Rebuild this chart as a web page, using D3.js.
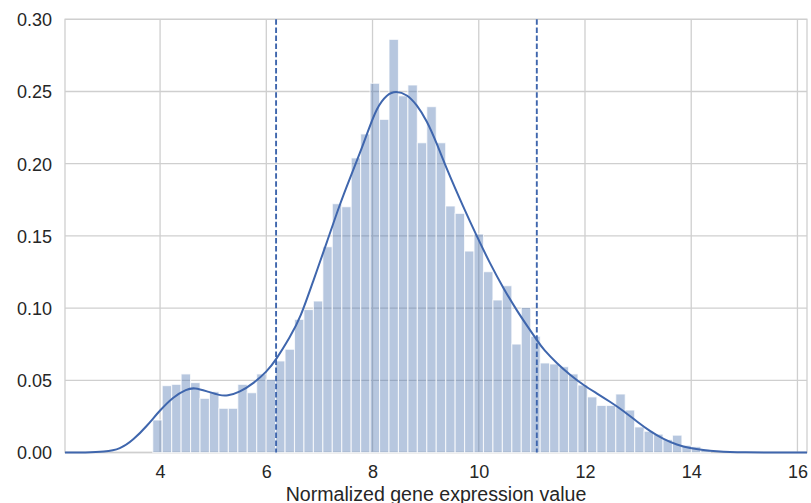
<!DOCTYPE html>
<html>
<head>
<meta charset="utf-8">
<script src="https://cdn.jsdelivr.net/npm/d3@7"></script>
<style>
  html, body { margin: 0; padding: 0; background: #ffffff; }
  svg { display: block; }
  text { font-family: "Liberation Sans", Arial, Helvetica, sans-serif; fill: #262626; }
</style>
</head>
<body>
<svg id="chart" width="811" height="503"></svg>
<script>
// Histogram of normalized expression values (density scale)
const binStart = 3.8625;
const binWidth = 0.1779;
const binDensity = [
  0.0225, 0.0463, 0.0472, 0.0544, 0.0484, 0.0375, 0.0421, 0.0306, 0.0306, 0.0472,
  0.0414, 0.0544, 0.0507, 0.0634, 0.0715, 0.0922, 0.0990, 0.1049, 0.1425, 0.1723,
  0.1702, 0.2040, 0.2206, 0.2557, 0.2307, 0.2861, 0.2470, 0.2545, 0.2145, 0.2395,
  0.2145, 0.1707, 0.1656, 0.1395, 0.1513, 0.1252, 0.1056, 0.1155, 0.0751, 0.1005,
  0.0805, 0.0620, 0.0613, 0.0594, 0.0544, 0.0467, 0.0385, 0.0326, 0.0326, 0.0405,
  0.0294, 0.0177, 0.0147, 0.0127, 0.0090, 0.0120, 0.0050, 0.0040, 0.0022
];

// Kernel density estimate, sampled along the x axis
const kdeX = [
  2.21, 2.6, 2.95, 3.25, 3.5, 3.75, 4.0, 4.25, 4.5, 4.65,
  4.88, 5.13, 5.26, 5.5, 5.76, 6.01, 6.18, 6.45, 6.64, 6.89,
  7.14, 7.39, 7.58, 7.77, 7.9, 8.08, 8.27, 8.44, 8.65, 8.83,
  9.02, 9.21, 9.4, 9.71, 9.96, 10.21, 10.46, 10.72, 10.97, 11.1,
  11.22, 11.47, 11.72, 11.97, 12.22, 12.47, 12.72, 12.98, 13.23, 13.48,
  13.73, 13.98, 14.23, 14.48, 14.73, 15.0, 15.4, 16.18
];
const kdeY = [
  0.0, 0.0, 0.0004, 0.0022, 0.0088, 0.0182, 0.0294, 0.0386, 0.0440, 0.0449,
  0.0424, 0.0395, 0.0391, 0.0418, 0.0479, 0.0560, 0.0640, 0.0802, 0.0930, 0.1195,
  0.1455, 0.1726, 0.1905, 0.2080, 0.2210, 0.2390, 0.2480, 0.2505, 0.2480, 0.2410,
  0.2300, 0.2140, 0.1960, 0.1700, 0.1500, 0.1310, 0.1140, 0.0980, 0.0845, 0.0775,
  0.0712, 0.0618, 0.0537, 0.0467, 0.0410, 0.0352, 0.0290, 0.0213, 0.0146, 0.0092,
  0.0053, 0.0029, 0.0016, 0.0008, 0.0003, 0.0001, 0.0, 0.0
];

// Interval markers (dashed verticals)
const cutoffs = [6.184, 11.093];

// Axis ticks
const xTicks = [4, 6, 8, 10, 12, 14, 16];
const yTicks = [0.00, 0.05, 0.10, 0.15, 0.20, 0.25, 0.30];
const xLabel = "Normalized gene expression value";

const blue = "#4C72B0";
const lineBlue = "#3F66AD";

const svg = d3.select("#chart");
const plotL = 65, plotR = 807, plotT = 19.3, plotB = 452.5;

const x = d3.scaleLinear().domain([2.21, 16.18]).range([plotL, plotR]);
const y = d3.scaleLinear().domain([0, 0.30]).range([plotB, plotT]);

// Grid
const grid = svg.append("g").attr("stroke", "#cfcfcf").attr("stroke-width", 1.3);
grid.selectAll("line.gx").data(xTicks).join("line")
  .attr("x1", d => x(d)).attr("x2", d => x(d))
  .attr("y1", plotT).attr("y2", plotB);
grid.selectAll("line.gy").data(yTicks).join("line")
  .attr("x1", plotL).attr("x2", plotR)
  .attr("y1", d => y(d)).attr("y2", d => y(d));

// Frame
svg.append("rect")
  .attr("x", plotL).attr("y", plotT)
  .attr("width", plotR - plotL).attr("height", plotB - plotT)
  .attr("fill", "none").attr("stroke", "#cfcfcf").attr("stroke-width", 1.3);

// Histogram bars
const bins = binDensity.map((v, i) => ({ x0: binStart + i * binWidth, x1: binStart + (i + 1) * binWidth, v }));
svg.append("g").selectAll("rect").data(bins).join("rect")
  .attr("x", d => x(d.x0))
  .attr("width", d => x(d.x1) - x(d.x0))
  .attr("y", d => y(d.v))
  .attr("height", d => y(0) - y(d.v))
  .attr("fill", blue).attr("fill-opacity", 0.4)
  .attr("stroke", "#ffffff").attr("stroke-opacity", 0.75).attr("stroke-width", 1.1);

// Density curve
const line = d3.line().x(d => x(d[0])).y(d => y(d[1])).curve(d3.curveBasis);
svg.append("path")
  .datum(kdeX.map((v, i) => [v, kdeY[i]]))
  .attr("d", line)
  .attr("fill", "none").attr("stroke", lineBlue).attr("stroke-width", 2)
  .attr("stroke-linejoin", "round");

// Dashed cutoffs
svg.append("g").selectAll("line").data(cutoffs).join("line")
  .attr("x1", d => x(d)).attr("x2", d => x(d))
  .attr("y1", plotT).attr("y2", plotB)
  .attr("stroke", lineBlue).attr("stroke-width", 1.9)
  .attr("stroke-dasharray", "5.5,2.6");

// Axis tick labels via d3 axes (no domain or tick lines)
const xAxis = d3.axisBottom(x).tickValues(xTicks).tickSize(0).tickPadding(0).tickFormat(d3.format("d"));
const gx = svg.append("g").attr("transform", `translate(0,${plotB})`).call(xAxis);
gx.select(".domain").remove();
gx.selectAll("text").attr("dy", null).attr("y", 25.5)
  .style("font-size", "18px").style("font-family", "'Liberation Sans', Arial, sans-serif").attr("fill", "#262626");

const yAxis = d3.axisLeft(y).tickValues(yTicks).tickSize(0).tickPadding(0).tickFormat(d3.format(".2f"));
const gy = svg.append("g").attr("transform", `translate(${plotL},0)`).call(yAxis);
gy.select(".domain").remove();
gy.selectAll("text").attr("x", -13).attr("dy", "0.36em")
  .style("font-size", "18px").style("font-family", "'Liberation Sans', Arial, sans-serif").attr("fill", "#262626");

// Axis title
svg.append("text")
  .attr("x", (plotL + plotR) / 2).attr("y", 500.5)
  .attr("text-anchor", "middle")
  .style("font-size", "19.6px")
  .text(xLabel);
</script>
</body>
</html>
